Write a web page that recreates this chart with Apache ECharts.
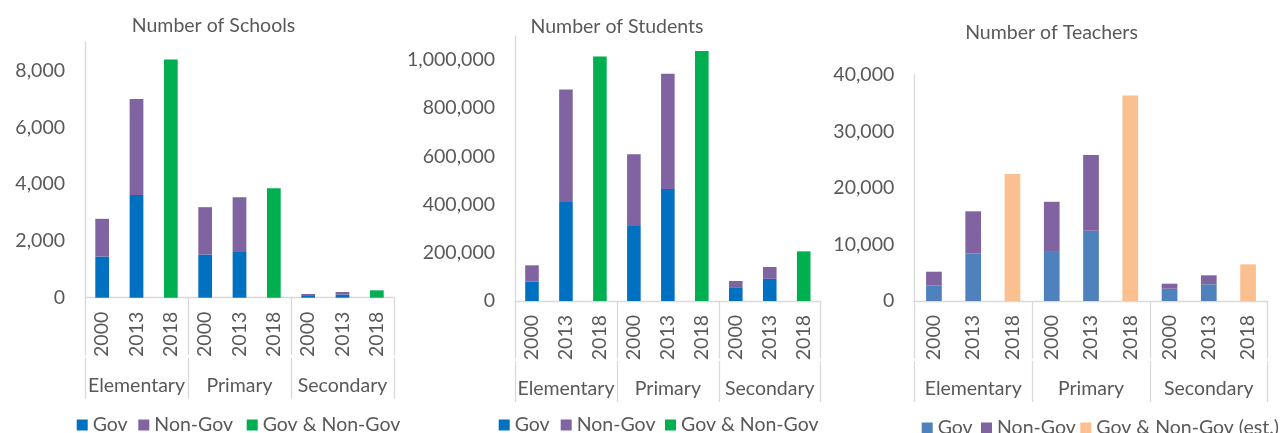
<!DOCTYPE html>
<html><head><meta charset="utf-8">
<script src="https://cdn.jsdelivr.net/npm/echarts@6/dist/echarts.min.js"></script>
<style>html,body{margin:0;padding:0;background:#fff}#c{width:1283px;height:433px}</style>
</head><body><div id="c"></div>
<script>
var years = ['2000','2013','2018','2000','2013','2018','2000','2013','2018'];
var groups = ['Elementary','Primary','Secondary'];
var titles = ['Number of Schools','Number of Students','Number of Teachers'];

var schoolsGov    = [1450, 3620, null, 1520, 1640, null, 90, 110, null];
var schoolsNonGov = [1330, 3380, null, 1670, 1900, null, 40, 90, null];
var schoolsAll    = [null, null, 8390, null, null, 3860, null, null, 260];

var studentsGov    = [80000, 411000, null, 311000, 465000, null, 57000, 92000, null];
var studentsNonGov = [68000, 467000, null, 298000, 478000, null, 26000, 49000, null];
var studentsAll    = [null, null, 1015000, null, null, 1037000, null, null, 206000];

var teachersGov    = [2770, 8430, null, 8830, 12420, null, 2170, 2950, null];
var teachersNonGov = [2410, 7420, null, 8710, 13380, null, 890, 1590, null];
var teachersAll    = [null, null, 22440, null, null, 36340, null, null, 6480];

var FONT = 'Lato';
var FS = 19.5;
var GREY = '#595959';
var LINE = '#d9d9d9';

var panels = [
  {grid:{left:85, top:42.3, width:309, height:255.4}, max:9000, interval:2000, showMax:false,
   names:['Gov','Non-Gov','Gov & Non-Gov'], colors:['#0070C0','#8064A2','#00B050'],
   data:[schoolsGov, schoolsNonGov, schoolsAll], titleX:213.5, titleY:26,
   legendX:[76.7, 138.3, 246.7], legendY:425},
  {grid:{left:515, top:35.9, width:305.7, height:265.1}, max:1100000, interval:200000, showMax:false,
   names:['Gov','Non-Gov','Gov & Non-Gov'], colors:['#0070C0','#8064A2','#00B050'],
   data:[studentsGov, studentsNonGov, studentsAll], titleX:617, titleY:27,
   legendX:[498.7, 560.7, 665], legendY:425},
  {grid:{left:914.3, top:74.7, width:353.4, height:226.3}, max:40000, interval:10000, showMax:true,
   names:['Gov','Non-Gov','Gov & Non-Gov (est.)'], colors:['#4F81BD','#8064A2','#FAC090'],
   data:[teachersGov, teachersNonGov, teachersAll], titleX:1051.5, titleY:33,
   legendX:[921.7, 981, 1080.3], legendY:428}
];

var option = {
  animation:false,
  textStyle:{fontFamily:FONT},
  title:[], legend:[], grid:[], xAxis:[], yAxis:[], series:[]
};

panels.forEach(function(p, i){
  option.title.push({text:titles[i], left:p.titleX, top:p.titleY, textAlign:'center', textVerticalAlign:'middle',
    padding:0, textStyle:{fontFamily:FONT, fontSize:FS, fontWeight:'normal', color:GREY}});
  option.grid.push(p.grid);
  // year level (bars use this axis)
  option.xAxis.push({type:'category', gridIndex:i, data:years, position:'bottom',
    axisLine:{show:true, lineStyle:{color:LINE, width:1.3}},
    axisTick:{show:false},
    axisLabel:{rotate:90, margin:14, interval:0, fontFamily:FONT, fontSize:FS, color:GREY}});
  // group separators through the year level
  option.xAxis.push({type:'category', gridIndex:i, data:groups, position:'bottom',
    axisLine:{show:false},
    axisTick:{show:true, interval:0, length:57.5, lineStyle:{color:LINE, width:1.3}},
    axisLabel:{show:false}});
  // group level with labels
  option.xAxis.push({type:'category', gridIndex:i, data:groups, position:'bottom', offset:60,
    axisLine:{show:false},
    axisTick:{show:true, interval:0, length:41, lineStyle:{color:LINE, width:1.3}},
    axisLabel:{margin:18, interval:0, fontFamily:FONT, fontSize:FS, color:GREY}});
  option.yAxis.push({type:'value', gridIndex:i, min:0, max:p.max, interval:p.interval,
    axisLine:{show:true, lineStyle:{color:LINE, width:1.3}},
    axisTick:{show:false}, splitLine:{show:false},
    axisLabel:{showMaxLabel:p.showMax, margin:20, fontFamily:FONT, fontSize:FS, color:GREY,
      formatter:function(v){return v.toLocaleString('en-US');}}});
  p.names.forEach(function(n, k){
    option.series.push({type:'bar', name:n, xAxisIndex:3*i, yAxisIndex:i, stack:'s'+i,
      barWidth:'40%', data:p.data[k], itemStyle:{color:p.colors[k]}});
    option.legend.push({data:[{name:n, itemStyle:{color:p.colors[k]}}],
      left:p.legendX[k], top:p.legendY - 11, orient:'horizontal',
      itemWidth:11, itemHeight:11, icon:'rect', padding:0, selectedMode:false,
      textStyle:{fontFamily:FONT, fontSize:FS, color:GREY, lineHeight:22}});
  });
});

var chart = echarts.init(document.getElementById('c'), null, {renderer:'canvas'});
chart.setOption(option);
</script></body></html>
